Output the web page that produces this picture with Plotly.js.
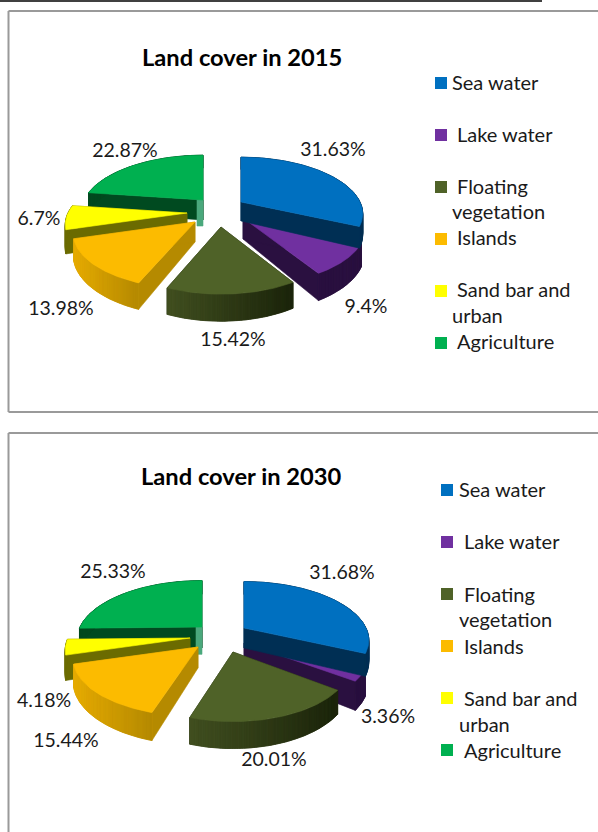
<!DOCTYPE html>
<html>
<head>
<meta charset="utf-8">
<script src="https://cdn.plot.ly/plotly-3.0.1.min.js"></script>
<style>html,body{margin:0;padding:0;background:#fff}</style>
</head>
<body>
<div id="chart" style="width:598px;height:832px"></div>
<script>
// Land cover shares, clockwise from twelve o'clock
const categories = ['Sea water', 'Lake water', 'Floating vegetation', 'Islands', 'Sand bar and urban', 'Agriculture'];
const shares2015 = [31.63, 9.4, 15.42, 13.98, 6.7, 22.87];
const shares2030 = [31.68, 3.36, 20.01, 15.44, 4.18, 25.33];

const topColors = ['#0070c0', '#7030a0', '#4f6228', '#fcbb00', '#ffff00', '#00b050'];
const wallLight = ['#002f54', '#2a1040', '#414f20', '#e6ab00', '#6b6b00', '#004a20'];
const wallDark  = ['#002f54', '#2a1040', '#1c250b', '#b58a00', '#6b6b00', '#004a20'];
const AGRICULTURE = 5;

// Painting order, back slices first
const paintOrder = [5, 4, 3, 1, 0, 2];

// Layout of each exploded pie: where every slice's tip sits on the page, ellipse radii, wall height
const pie2015 = {
  year: '2015', shares: shares2015, rx: 119, ry: 56, depth: 20,
  wallScale: [0.95, 1.05, 1, 1, 1.1, 1],
  widthScale: [1, 1, 0.955, 1, 1, 1],
  tips: [[241, 202], [243, 218], [221, 227], [195, 222], [187, 213], [203, 200]],
  labels: [[333, 151], [366, 308], [233, 341], [61, 310], [39, 220], [125, 152]],
  titleAt: [241.5, 57],
  swatchX: 441, swatchY: [83, 135, 187, 239, 291, 343],
  legendX: 455, legendHangX: 450,
  legendY: [82, 134, 186, 211, 237, 289, 315, 341]
};
const pie2030 = {
  year: '2030', shares: shares2030, rx: 122, ry: 58, depth: 21,
  wallScale: [0.95, 1.15, 0.95, 1, 1.1, 1],
  widthScale: [1, 1, 0.94, 1, 1, 1],
  tips: [[244, 628], [244, 643], [233, 652], [198, 647], [190, 638], [202, 627]],
  labels: [[342, 574], [388, 718], [274, 761], [66, 742], [44, 702], [113, 573]],
  titleAt: [241, 476],
  swatchX: 447, swatchY: [490, 542, 594, 646, 698, 750],
  legendX: 462, legendHangX: 457,
  legendY: [489, 541, 594, 619, 646, 698, 724, 750]
};
// Legend rows; the flag marks rows set slightly further left
const legendLines = [
  ['Sea water', 1], ['Lake water', 0], ['Floating', 0], ['vegetation', 1],
  ['Islands', 0], ['Sand bar and', 0], ['urban', 1], ['Agriculture', 0]
];

const PERSPECTIVE_Y = 0.2, PERSPECTIVE_X = 0.22, PERSPECTIVE_WALL = 0.35;
const FONT = 'Lato, Carlito, Calibri, sans-serif';

function mix(a, b, t) {
  const p = c => [1, 3, 5].map(i => parseInt(c.substr(i, 2), 16));
  const A = p(a), B = p(b);
  return 'rgb(' + A.map((v, i) => Math.round(v + (B[i] - v) * t)).join(',') + ')';
}

// Angle in degrees clockwise from the top -> page position around a slice tip
function project(pie, i, deg, r) {
  const tip = pie.tips[i];
  const a = deg * Math.PI / 180, u = r * Math.sin(a), v = -r * Math.cos(a);
  return {
    x: tip[0] + pie.rx * pie.widthScale[i] * u * (1 + PERSPECTIVE_X * v),
    y: tip[1] + pie.ry * v * (1 + PERSPECTIVE_Y * v),
    d: pie.depth * pie.wallScale[i] * (1 + PERSPECTIVE_WALL * v)
  };
}

function appendQuad(xs, ys, p, q) {
  xs.push(p.x, q.x, q.x, p.x, p.x, null);
  ys.push(p.y, q.y, q.y + q.d, p.y + p.d, p.y, null);
}

function pieTraces(pie) {
  const traces = [];
  let running = 0;
  const spans = pie.shares.map(s => {
    const span = [running * 3.6, (running + s) * 3.6];
    running += s;
    return span;
  });
  paintOrder.forEach(i => {
    const [from, to] = spans[i];
    const steps = Math.max(12, Math.round(to - from));
    const rim = [];
    for (let k = 0; k <= steps; k++) rim.push(project(pie, i, from + (to - from) * k / steps, 1));
    const apex = project(pie, i, from, 0);

    // Radial cut faces
    const cutX = [], cutY = [];
    appendQuad(cutX, cutY, apex, rim[0]);
    appendQuad(cutX, cutY, apex, rim[rim.length - 1]);
    traces.push(polygon(cutX, cutY, wallDark[i], categories[i] + ' cut faces'));

    // Solid band under the shaded wall, so the joins between shades stay closed
    traces.push(polygon(
      [...rim.map(p => p.x), ...rim.slice().reverse().map(p => p.x), rim[0].x],
      [...rim.map(p => p.y), ...rim.slice().reverse().map(p => p.y + p.d), rim[0].y],
      mix(wallLight[i], wallDark[i], 0.5), categories[i] + ' wall base'));

    // Outer wall, shaded from its left end to its right end
    const xMin = Math.min(...rim.map(p => p.x)), xMax = Math.max(...rim.map(p => p.x));
    const BINS = 30;
    for (let b = 0; b < BINS; b++) {
      const wx = [], wy = [];
      for (let k = 0; k < steps; k++) {
        const mid = (rim[k].x + rim[k + 1].x) / 2;
        const pos = Math.min(BINS - 1, Math.floor((mid - xMin) / (xMax - xMin + 1e-6) * BINS));
        if (pos === b) appendQuad(wx, wy, rim[k], rim[k + 1]);
      }
      if (wx.length) traces.push(polygon(wx, wy, mix(wallLight[i], wallDark[i], b / (BINS - 1)), categories[i] + ' wall'));
    }

    // The agriculture slice shows a paler lit edge at twelve o'clock
    if (i === AGRICULTURE) {
      const h = apex.d * 1.3;
      traces.push(polygon(
        [apex.x - 6, apex.x, apex.x, apex.x - 6, apex.x - 6],
        [apex.y, apex.y, apex.y + h, apex.y + h, apex.y],
        '#4aa87c', categories[i] + ' edge'));
    }

    // Top face
    const tx = [apex.x, ...rim.map(p => p.x), apex.x];
    const ty = [apex.y, ...rim.map(p => p.y), apex.y];
    traces.push(polygon(tx, ty, topColors[i], categories[i]));
  });

  // Percentage labels
  traces.push({
    type: 'scatter', mode: 'text', hoverinfo: 'skip', showlegend: false,
    x: pie.labels.map(p => p[0]), y: pie.labels.map(p => p[1]),
    text: pie.shares.map(s => s + '%'),
    textposition: 'middle center',
    textfont: { family: FONT, size: 19.5, color: '#1a1a1a' }
  });

  // Legend swatches
  traces.push({
    type: 'scatter', mode: 'markers', hoverinfo: 'skip', showlegend: false,
    x: pie.swatchY.map(() => pie.swatchX), y: pie.swatchY,
    marker: { symbol: 'square', size: 12, color: topColors, line: { width: 0 } }
  });
  return traces;
}

function polygon(x, y, color, name) {
  return {
    type: 'scatter', mode: 'lines', x, y, name, fill: 'toself', fillcolor: color,
    line: { color, width: 0.6 }, hoverinfo: 'name', showlegend: false, connectgaps: false
  };
}

function pieAnnotations(pie) {
  const notes = [{
    x: pie.titleAt[0], y: pie.titleAt[1], xref: 'x', yref: 'y', showarrow: false,
    text: '<b>Land cover in ' + pie.year + '</b>',
    font: { family: FONT, size: 23.7, color: '#000' }
  }];
  legendLines.forEach(([label, hang], i) => notes.push({
    x: hang ? pie.legendHangX : pie.legendX, y: pie.legendY[i],
    xref: 'x', yref: 'y', xanchor: 'left', showarrow: false, text: label,
    font: { family: FONT, size: 20, color: '#1a1a1a' }
  }));
  return notes;
}

const frameStyle = { color: '#9a9a9a', width: 2 };
const pageLine = (x0, y0, x1, y1, line) => ({ type: 'line', xref: 'x', yref: 'y', x0, y0, x1, y1, line });

Plotly.newPlot('chart', [...pieTraces(pie2015), ...pieTraces(pie2030)], {
  width: 598, height: 832,
  margin: { l: 0, r: 0, t: 0, b: 0 },
  paper_bgcolor: '#fff', plot_bgcolor: '#fff',
  showlegend: false,
  xaxis: { range: [0, 598], visible: false, fixedrange: true },
  yaxis: { range: [832, 0], visible: false, fixedrange: true },
  annotations: [...pieAnnotations(pie2015), ...pieAnnotations(pie2030)],
  shapes: [
    pageLine(0, 1, 542, 1, { color: '#000', width: 1.5 }),
    pageLine(8.5, 11, 598, 11, frameStyle),
    pageLine(8.5, 11, 8.5, 412, frameStyle),
    pageLine(8.5, 412, 598, 412, frameStyle),
    pageLine(8.5, 433, 598, 433, frameStyle),
    pageLine(8.5, 433, 8.5, 832, frameStyle)
  ]
}, { displayModeBar: false, staticPlot: true });
</script>
</body>
</html>
